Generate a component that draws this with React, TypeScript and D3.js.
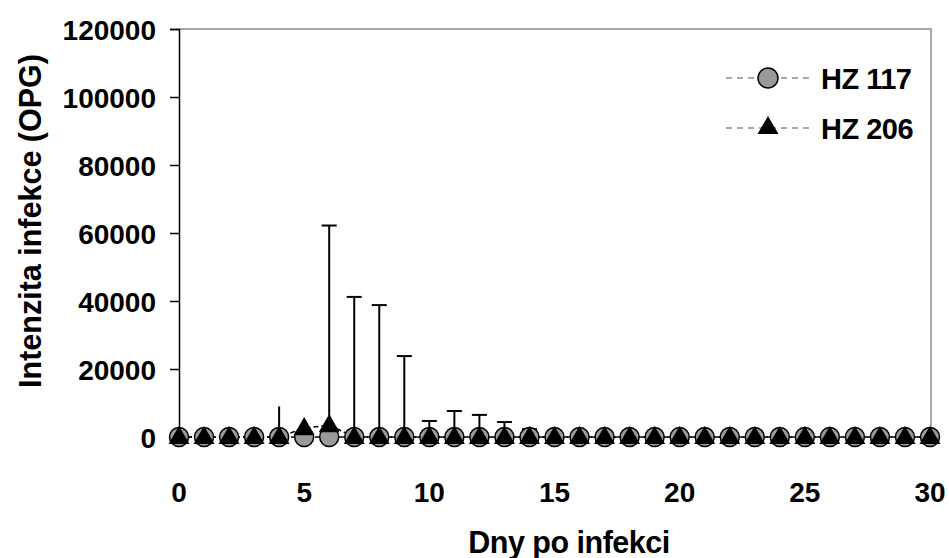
import React, { useEffect, useRef } from "react";
import * as d3 from "d3";

// days after infection
const days = [0,1,2,3,4,5,6,7,8,9,10,11,12,13,14,15,16,17,18,19,20,21,22,23,24,25,26,27,28,29,30];

// mean OPG per group
const hz117 = [0,0,0,0,0,0,0,0,0,0,0,0,0,0,0,0,0,0,0,0,0,0,0,0,0,0,0,0,0,0,0];
const hz206 = [0,0,0,0,0,2600,3500,0,0,0,0,0,0,0,0,0,0,0,0,0,0,0,0,0,0,0,0,0,0,0,0];

// upper error (SD)
const err117 = [0,0,0,0,9000,0,0,0,0,0,0,0,0,0,0,0,0,0,0,0,0,0,0,0,0,0,0,0,0,0,0];
const err206 = [0,0,0,0,0,0,58700,41200,38800,23800,4700,7650,6500,4400,2300,0,0,0,0,0,0,0,0,0,0,0,0,0,0,0,0];

const yTicks = [0, 20000, 40000, 60000, 80000, 100000, 120000];
const xTicks = [0, 5, 10, 15, 20, 25, 30];

const W = 949;
const H = 558;
const FONT = "'Liberation Sans', Arial, sans-serif";

export default function App() {
    const ref = useRef<SVGSVGElement>(null);

    useEffect(() => {
        const svg = d3.select(ref.current);
        svg.selectAll("*").remove();

        const x = d3.scaleLinear().domain([0, 30]).range([179, 930]);
        const y = d3.scaleLinear().domain([0, 120000]).range([437, 29]);

        svg.append("rect").attr("width", W).attr("height", H).attr("fill", "#fff");

        // frame (top + right, grey)
        svg.append("path")
            .attr("d", `M${x(0)},${y(120000)}H${x(30) + 1}V${y(0)}`)
            .attr("fill", "none")
            .attr("stroke", "#8c8c8c")
            .attr("stroke-width", 1.5);

        // y axis
        const yAxis = svg.append("g").attr("transform", `translate(${x(0)},0)`)
            .call(d3.axisLeft(y).tickValues(yTicks).tickSize(9).tickPadding(14).tickFormat(d3.format("d")));
        yAxis.select(".domain").attr("stroke", "#000").attr("stroke-width", 1.5);
        yAxis.selectAll(".tick line").attr("stroke", "#000").attr("stroke-width", 1.5);
        yAxis.selectAll("text")
            .attr("font-family", FONT).attr("font-weight", "bold").attr("font-size", 28).attr("fill", "#000")
            .attr("dy", "0.36em");

        // x tick labels (no visible axis line)
        svg.append("g").selectAll("text").data(xTicks).join("text")
            .attr("x", d => x(d)).attr("y", 502)
            .attr("text-anchor", "middle")
            .attr("font-family", FONT).attr("font-weight", "bold").attr("font-size", 28)
            .text(d => d);

        // axis titles
        svg.append("text")
            .attr("transform", `translate(41,221) rotate(-90)`)
            .attr("text-anchor", "middle")
            .attr("font-family", FONT).attr("font-weight", "bold").attr("font-size", 30.5)
            .text("Intenzita infekce (OPG)");
        svg.append("text")
            .attr("x", 569).attr("y", 553)
            .attr("text-anchor", "middle")
            .attr("font-family", FONT).attr("font-weight", "bold").attr("font-size", 30.5)
            .attr("letter-spacing", "-0.5")
            .text("Dny po infekci");

        const series = [
            { name: "HZ 117", values: hz117, err: err117, shape: "circle", cap: false },
            { name: "HZ 206", values: hz206, err: err206, shape: "triangle", cap: true },
        ];

        const tri = d3.symbol().type(d3.symbolTriangle).size(190);

        // error bars
        series.forEach(s => {
            const g = svg.append("g").attr("stroke", "#000").attr("stroke-width", 2);
            days.forEach((d, i) => {
                if (!s.err[i]) return;
                const top = y(s.values[i] + s.err[i]);
                g.append("line").attr("x1", x(d)).attr("x2", x(d)).attr("y1", y(s.values[i])).attr("y2", top);
                if (s.cap) g.append("line").attr("x1", x(d) - 7.5).attr("x2", x(d) + 7.5).attr("y1", top).attr("y2", top);
            });
        });

        // lines + markers
        const line = d3.line<number>().x((_, i) => x(days[i])).y(v => y(v));
        series.forEach(s => {
            svg.append("path")
                .attr("d", line(s.values))
                .attr("fill", "none")
                .attr("stroke", "#000")
                .attr("stroke-width", 1.5)
                .attr("stroke-dasharray", "5,3");
        });
        series.forEach(s => {
            const g = svg.append("g");
            days.forEach((d, i) => {
                if (s.shape === "circle") {
                    g.append("circle").attr("cx", x(d)).attr("cy", y(s.values[i])).attr("r", 9.5)
                        .attr("fill", "#9a9a9a").attr("stroke", "#000").attr("stroke-width", 1.5);
                } else {
                    g.append("path").attr("d", tri).attr("transform", `translate(${x(d)},${y(s.values[i]) + 1})`)
                        .attr("fill", "#000");
                }
            });
        });

        // legend
        const leg = svg.append("g");
        series.forEach((s, i) => {
            const ly = 78 + i * 50;
            leg.append("line").attr("x1", 726).attr("x2", 810).attr("y1", ly).attr("y2", ly)
                .attr("stroke", "#555").attr("stroke-width", 1.2).attr("stroke-dasharray", "6,5");
            if (s.shape === "circle") {
                leg.append("circle").attr("cx", 768).attr("cy", ly).attr("r", 10)
                    .attr("fill", "#9a9a9a").attr("stroke", "#000").attr("stroke-width", 1.5);
            } else {
                leg.append("path").attr("d", tri).attr("transform", `translate(768,${ly})`).attr("fill", "#000");
            }
            leg.append("text").attr("x", 821).attr("y", ly + 10.5)
                .attr("font-family", FONT).attr("font-weight", "bold").attr("font-size", 29)
                .attr("letter-spacing", "-0.5")
                .text(s.name);
        });
    }, []);

    return (
        <svg ref={ref} width={W} height={H}
            style={{ position: "absolute", left: 0, top: 0, display: "block" }} />
    );
}
